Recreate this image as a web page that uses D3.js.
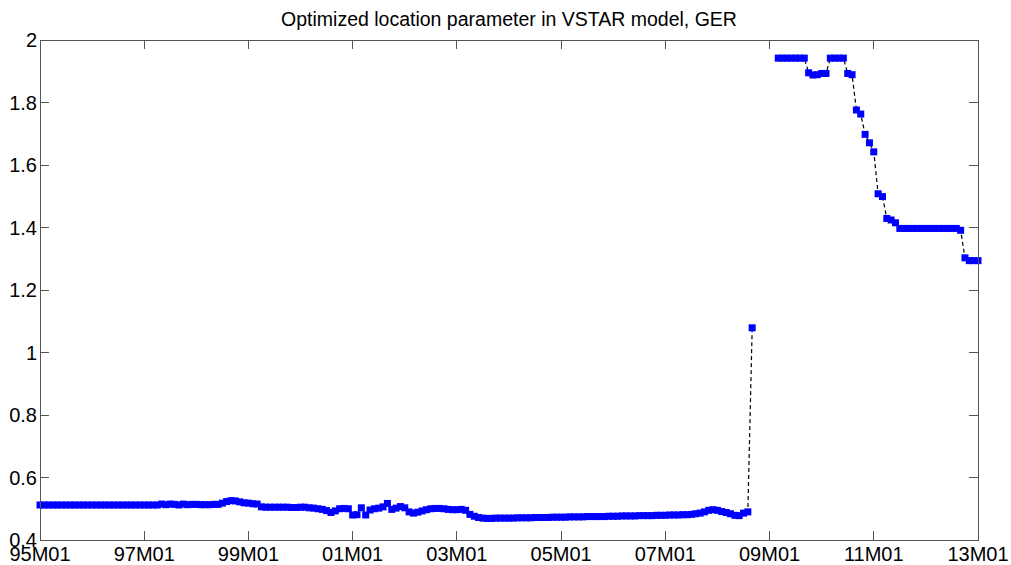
<html>
<head>
<meta charset="utf-8">
<title>Optimized location parameter in VSTAR model, GER</title>
<script src="https://d3js.org/d3.v7.min.js"></script>
<style>
body { margin:0; background:#fff; }
svg text { font-family: "Liberation Sans", Arial, sans-serif; fill:#000; }
</style>
</head>
<body>
<div id="container"></div>
<script>

var title = "Optimized location parameter in VSTAR model, GER";

// month index 0 = 1995M01
var xTickMonths = [0, 24, 48, 72, 96, 120, 144, 168, 192, 216];
var xTickLabels = ["95M01","97M01","99M01","01M01","03M01","05M01","07M01","09M01","11M01","13M01"];
var yTicks = [0.4, 0.6, 0.8, 1, 1.2, 1.4, 1.6, 1.8, 2];

// one value per month, null = not estimated
var locationParam = [
  // 95M01 - 97M04
  0.512,0.512,0.512,0.512,0.512,0.512,0.512,0.512,0.512,0.512,0.512,0.512,0.512,0.512,
  0.512,0.512,0.512,0.512,0.512,0.512,0.512,0.512,0.512,0.512,0.512,0.512,0.512,0.512,
  0.515,0.513,0.515,0.514,0.512,0.515,0.513,0.514,0.514,0.513,0.513,0.513,0.514,0.514,
  0.518,0.523,0.526,0.525,0.522,0.519,0.518,0.516,0.515,
  0.506,0.505,0.505,0.505,0.505,0.505,0.505,0.504,0.504,0.505,
  0.505,0.503,0.502,0.500,0.498,0.494,0.488,0.493,0.500,0.501,0.500,
  // 01M01
  0.480,0.481,0.503,0.480,0.496,0.500,0.502,0.506,0.517,0.498,0.502,0.507,
  0.503,0.490,0.486,0.489,0.493,0.497,0.500,0.501,0.501,0.500,0.498,0.497,
  // 03M01
  0.497,0.498,0.495,0.482,0.476,0.472,0.470,0.469,0.469,0.470,0.470,0.470,
  0.470,0.470,0.471,0.471,0.471,0.471,0.472,0.472,0.472,0.472,0.473,0.473,
  // 05M01
  0.473,0.473,0.474,0.474,0.474,0.474,0.475,0.475,0.475,0.475,0.475,
  0.476,0.476,0.476,0.477,0.477,0.477,0.477,0.478,0.478,0.478,0.478,0.479,0.479,
  0.479,0.480,0.480,0.480,0.481,0.481,0.482,
  0.484,0.486,0.490,0.495,0.497,0.495,
  0.491,0.488,0.484,0.479,0.478,0.486,0.490,
  1.079,
  null,null,null,null,null,
  // 09M03
  1.942,1.942,1.942,1.942,1.942,1.942,1.942,
  1.895,1.888,1.889,1.893,1.893,
  1.942,1.942,1.942,1.942,
  1.893,1.889,
  1.776,1.763,
  1.698,1.671,1.642,
  1.508,1.499,
  1.429,1.424,1.415,
  1.397,1.397,1.397,1.397,1.397,1.397,1.397,1.397,1.397,1.397,1.397,1.397,1.397,1.397,
  1.391,
  1.303,
  1.294,1.294,1.294
];

var width = 1011, height = 565;
var plotLeft = 40, plotRight = 978, plotTop = 40, plotBottom = 540;

var svg = d3.select('#container').append('svg')
  .attr('width', width).attr('height', height);

svg.append('rect').attr('width', width).attr('height', height).attr('fill', '#fff');

var x = d3.scaleLinear().domain([0, 216]).range([plotLeft, plotRight]);
var y = d3.scaleLinear().domain([0.4, 2]).range([plotBottom, plotTop]);

var pts = locationParam.map(function(v, i) { return {i: i, v: v}; });

// dashed black line
var line = d3.line()
  .defined(function(d) { return d.v != null; })
  .x(function(d) { return x(d.i); })
  .y(function(d) { return y(d.v); });

svg.append('path')
  .datum(pts)
  .attr('d', line)
  .attr('fill', 'none')
  .attr('stroke', '#000')
  .attr('stroke-width', 1.2)
  .attr('stroke-dasharray', '4,3');

// blue square markers
var ms = 7;
svg.append('g').selectAll('rect')
  .data(pts.filter(function(d) { return d.v != null; }))
  .enter().append('rect')
  .attr('x', function(d) { return x(d.i) - ms / 2; })
  .attr('y', function(d) { return y(d.v) - ms / 2; })
  .attr('width', ms).attr('height', ms)
  .attr('fill', '#0000ff');

// axes, matlab box style with inward ticks
var tl = 9;
var axisCol = '#555';
var ax = svg.append('g').attr('stroke', axisCol).attr('stroke-width', 1).attr('shape-rendering', 'crispEdges');
ax.append('rect').attr('x', plotLeft).attr('y', plotTop)
  .attr('width', plotRight - plotLeft).attr('height', plotBottom - plotTop).attr('fill', 'none');

xTickMonths.forEach(function(m) {
  ax.append('line').attr('x1', x(m)).attr('x2', x(m)).attr('y1', plotBottom).attr('y2', plotBottom - tl);
  ax.append('line').attr('x1', x(m)).attr('x2', x(m)).attr('y1', plotTop).attr('y2', plotTop + tl);
});
yTicks.forEach(function(t) {
  ax.append('line').attr('x1', plotLeft).attr('x2', plotLeft + tl).attr('y1', y(t)).attr('y2', y(t));
  ax.append('line').attr('x1', plotRight).attr('x2', plotRight - tl).attr('y1', y(t)).attr('y2', y(t));
});

svg.append('g').selectAll('text.xl')
  .data(xTickMonths)
  .enter().append('text')
  .attr('x', function(m) { return x(m); })
  .attr('y', 561)
  .attr('text-anchor', 'middle')
  .attr('font-size', 20)
  .text(function(m, i) { return xTickLabels[i]; });

svg.append('g').selectAll('text.yl')
  .data(yTicks)
  .enter().append('text')
  .attr('x', plotLeft - 3)
  .attr('y', function(t) { return y(t) + 7; })
  .attr('text-anchor', 'end')
  .attr('font-size', 20)
  .text(function(t) { return d3.format('')(t); });

svg.append('text')
  .attr('x', (plotLeft + plotRight) / 2)
  .attr('y', 26)
  .attr('text-anchor', 'middle')
  .attr('font-size', 19.5)
  .text(title);

</script>
</body>
</html>
